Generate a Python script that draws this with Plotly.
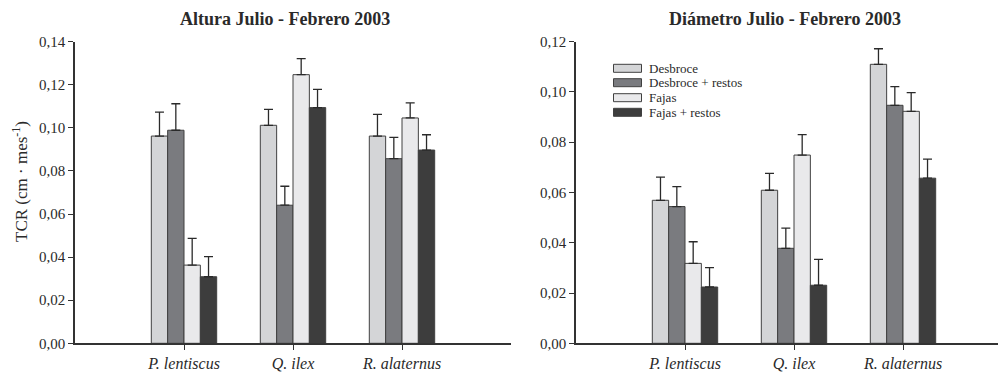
import plotly.graph_objects as go

species = ["P. lentiscus", "Q. ilex", "R. alaternus"]
treatments = ["Desbroce", "Desbroce + restos", "Fajas", "Fajas + restos"]
colors = ["#d4d5d7", "#7a7b7f", "#e9e9eb", "#3d3d3d"]

# Altura Julio - Febrero 2003
altura_vals = [
    [0.0962, 0.1012, 0.0962],
    [0.0989, 0.0641, 0.0857],
    [0.0363, 0.1247, 0.1046],
    [0.0309, 0.1094, 0.0897],
]
altura_err = [
    [0.0111, 0.0074, 0.0101],
    [0.0123, 0.0088, 0.0099],
    [0.0124, 0.0074, 0.0070],
    [0.0093, 0.0085, 0.0071],
]

# Diámetro Julio - Febrero 2003
diam_vals = [
    [0.0569, 0.0609, 0.1110],
    [0.0544, 0.0378, 0.0947],
    [0.0318, 0.0749, 0.0923],
    [0.0224, 0.0231, 0.0657],
]
diam_err = [
    [0.0092, 0.0067, 0.0062],
    [0.0079, 0.0080, 0.0074],
    [0.0086, 0.0081, 0.0074],
    [0.0077, 0.0103, 0.0076],
]

x_pos = [1, 2, 3]
FONT = "Liberation Serif"
INK = "#2a2a2a"
W, H = 1006, 372
OFF = 8  # page body margin

fig = go.Figure()

for i, t in enumerate(treatments):
    for vals, errs, xa, ya in [(altura_vals, altura_err, "x", "y"),
                               (diam_vals, diam_err, "x2", "y2")]:
        fig.add_trace(go.Bar(
            x=x_pos, y=vals[i], name=t, xaxis=xa, yaxis=ya,
            offsetgroup=str(i), showlegend=False,
            marker=dict(color=colors[i], line=dict(color="#404040", width=1)),
            error_y=dict(type="data", array=errs[i], arrayminus=[0, 0, 0],
                         symmetric=False, color=INK, thickness=1.3, width=4.5),
        ))

def px_x(p):
    return (p - OFF) / W

def px_y(p):
    return 1 - (p - OFF) / H

ydom = [px_y(343.3), px_y(41.7)]

axis_common = dict(
    showline=True, linecolor="#333333", linewidth=1.5,
    ticks="outside", ticklen=5, tickcolor="#333333", tickwidth=1.3,
    showgrid=False, zeroline=False, automargin=False,
)

fig.update_layout(
    template="none",
    width=W, height=H, autosize=False,
    margin=dict(l=0, r=0, t=0, b=0, pad=0),
    paper_bgcolor="white", plot_bgcolor="white",
    separators=",.",
    barmode="group", bargap=0.4, bargroupgap=0,
    font=dict(family=FONT, color=INK),
    xaxis=dict(domain=[px_x(75), px_x(511)], range=[0, 4],
               tickvals=x_pos, ticktext=[f"<i>{s}</i>" for s in species],
               tickfont=dict(family=FONT, size=16, color=INK),
               anchor="y", **axis_common),
    yaxis=dict(domain=ydom, range=[0, 0.14], dtick=0.02, tickformat=".2f",
               anchor="x", tickfont=dict(family=FONT, size=15, color=INK),
               **axis_common),
    xaxis2=dict(domain=[px_x(576), px_x(1006)], range=[0, (1006 - 576) / 109],
                tickvals=x_pos, ticktext=[f"<i>{s}</i>" for s in species],
                tickfont=dict(family=FONT, size=16, color=INK),
                anchor="y2", **axis_common),
    yaxis2=dict(domain=ydom, range=[0, 0.12], dtick=0.02, tickformat=".2f",
                tickfont=dict(family=FONT, size=15, color=INK),
                anchor="x2", **axis_common),
)

# Y-axis title
fig.add_annotation(text="TCR (cm · mes<sup>-1</sup>)", x=px_x(20), y=px_y(182),
                   xref="paper", yref="paper", showarrow=False, textangle=-90,
                   font=dict(family=FONT, size=17, color=INK),
                   xanchor="center", yanchor="middle")

# Titles
fig.add_annotation(text="<b>Altura Julio - Febrero 2003</b>", x=px_x(284.5), y=px_y(19.5),
                   xref="paper", yref="paper", showarrow=False,
                   font=dict(family=FONT, size=18, color=INK), xanchor="center", yanchor="middle")
fig.add_annotation(text="<b>Diámetro Julio - Febrero 2003</b>", x=px_x(785), y=px_y(19.5),
                   xref="paper", yref="paper", showarrow=False,
                   font=dict(family=FONT, size=18, color=INK), xanchor="center", yanchor="middle")

# Legend (drawn manually to match wide swatches)
row_y = [68.3, 82.7, 97.7, 112.3]
for i, t in enumerate(treatments):
    cy = row_y[i]
    fig.add_shape(type="rect", xref="paper", yref="paper",
                  x0=px_x(613.5), x1=px_x(641.5), y0=px_y(cy + 4), y1=px_y(cy - 4),
                  fillcolor=colors[i], line=dict(color="#404040", width=1))
    fig.add_annotation(text=t, x=px_x(647), y=px_y(cy), xref="paper", yref="paper",
                       showarrow=False, xanchor="left", yanchor="middle",
                       font=dict(family=FONT, size=13, color=INK))

fig.write_html("out.html")
